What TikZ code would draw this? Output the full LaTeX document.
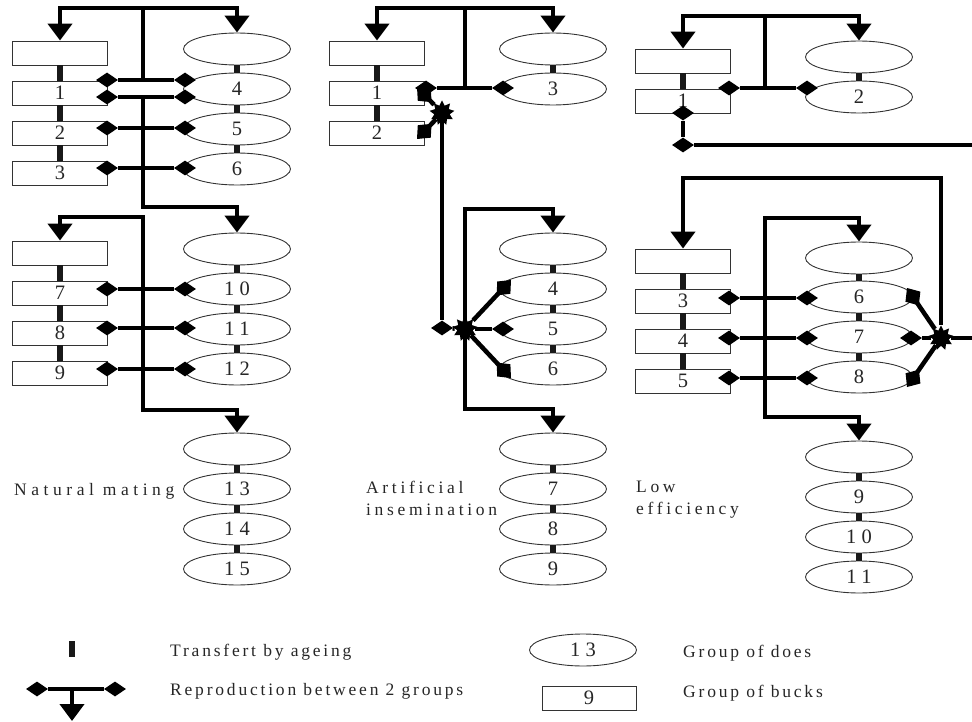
\documentclass[tikz,border=0pt]{standalone}
\usepackage{fontspec}
\setmainfont{Liberation Serif}
\usetikzlibrary{shapes.geometric,arrows.meta}

% fonts: group numbers, block captions and key captions (all letter-spaced)
\newcommand\grpnum{\fontsize{20.5}{20.5}\selectfont\addfontfeatures{LetterSpace=26}}
\newcommand\mainlbl{\fontsize{17.5}{22}\selectfont\addfontfeatures{LetterSpace=21}}
\newcommand\keylbl{\fontsize{17.5}{22}\selectfont\addfontfeatures{LetterSpace=16}}

\tikzset{
  buck/.style={draw=black!80, line width=0.9pt, minimum width=95pt, minimum height=24pt,
               inner sep=0pt, text=black!85, font=\grpnum},
  doe/.style={ellipse, draw=black!80, line width=0.9pt, minimum width=107pt, minimum height=32pt,
              inner sep=0pt, text=black!85, font=\grpnum},
  ageing/.style={line width=5.5pt, black!90},
  link/.style={line width=4.5pt},
  tri/.tip={Triangle[length=17pt,width=24pt]},
  dtip/.tip={Diamond[length=21pt,width=18pt]},
  feed/.style={line width=4.5pt, -tri},
  feedboth/.style={line width=4.5pt, tri-tri},
  slant/.style={line width=4.5pt, -dtip},
  dia/.style={diamond, fill=black, minimum width=22pt, minimum height=15pt, inner sep=0pt},
  hub/.style={star, star points=9, star point ratio=1.6, fill=black, minimum size=25pt, inner sep=0pt},
  caption/.style={inner sep=0pt, text=black!85, font=\mainlbl, align=left},
  keytext/.style={inner sep=0pt, text=black!85, font=\keylbl, anchor=west},
}

\begin{document}
\begin{tikzpicture}[x=1pt, y=-1pt]
\useasboundingbox (0,0) rectangle (972,722);

% ================= Natural mating =================
\node[buck] (A-r0) at (60,53) {};
\node[buck] (A-r1) at (60,93) {1};
\node[buck] (A-r2) at (60,133) {2};
\node[buck] (A-r3) at (60,173) {3};
\node[doe] (A-e0) at (237,49) {};
\node[doe] (A-e4) at (237,89) {4};
\node[doe] (A-e5) at (237,129) {5};
\node[doe] (A-e6) at (237,169) {6};

\node[buck] (A-r4) at (60,253) {};
\node[buck] (A-r7) at (60,293) {7};
\node[buck] (A-r8) at (60,333) {8};
\node[buck] (A-r9) at (60,373) {9};
\node[doe] (A-e1) at (237,249) {};
\node[doe] (A-e10) at (237,289) {10};
\node[doe] (A-e11) at (237,329) {11};
\node[doe] (A-e12) at (237,369) {12};

\node[doe] (A-e2) at (237,449) {};
\node[doe] (A-e13) at (237,489) {13};
\node[doe] (A-e14) at (237,529) {14};
\node[doe] (A-e15) at (237,569) {15};

\foreach \a/\b in {r0/r1,r1/r2,r2/r3,r4/r7,r7/r8,r8/r9,
                   e0/e4,e4/e5,e5/e6,e1/e10,e10/e11,e11/e12,e2/e13,e13/e14,e14/e15}
  \draw[ageing] (A-\a.south) -- (A-\b.north);

\foreach \n/\y in {1a/80,1b/97,2/128,3/168,7/289,8/328,9/369} {
  \node[dia] (A-dl\n) at (107,\y) {};
  \node[dia] (A-dr\n) at (185,\y) {};
  \draw[link] (A-dl\n) -- (A-dr\n);
}

\coordinate (A-top) at (143,8);
\coordinate (A-j0) at (143,80);
\draw[feedboth] (A-r0.north) |- (A-top) -| (A-e0.north);
\draw[link] (A-j0) -- (A-top);

\coordinate (A-j1) at (143,97);
\coordinate (A-k1) at (143,207);
\draw[feed] (A-j1) -- (A-k1) -| (A-e1.north);

\coordinate (A-k2) at (143,217);
\coordinate (A-k3) at (143,410);
\draw[feedboth] (A-r4.north) |- (A-k2) -- (A-k3) -| (A-e2.north);

\node[caption, anchor=west, font=\mainlbl\addfontfeatures{LetterSpace=26}] (A-cap) at (14,491) {Natural mating};

% ================= Artificial insemination =================
\node[buck] (B-r0) at (377,53) {};
\node[buck] (B-r1) at (377,93) {1};
\node[buck] (B-r2) at (377,133) {2};
\node[doe] (B-e0) at (553,49) {};
\node[doe] (B-e3) at (553,89) {3};

\node[doe] (B-e1) at (553,249) {};
\node[doe] (B-e4) at (553,289) {4};
\node[doe] (B-e5) at (553,329) {5};
\node[doe] (B-e6) at (553,369) {6};

\node[doe] (B-e2) at (553,449) {};
\node[doe] (B-e7) at (553,489) {7};
\node[doe] (B-e8) at (553,529) {8};
\node[doe] (B-e9) at (553,569) {9};

\foreach \a/\b in {r0/r1,r1/r2,e0/e3,e1/e4,e4/e5,e5/e6,e2/e7,e7/e8,e8/e9}
  \draw[ageing] (B-\a.south) -- (B-\b.north);

\coordinate (B-top) at (465,8);
\coordinate (B-j0) at (465,88);
\draw[feedboth] (B-r0.north) |- (B-top) -| (B-e0.north);
\draw[link] (B-j0) -- (B-top);

\node[dia] (B-d1a) at (426,88) {};
\node[dia] (B-d3) at (503,88) {};
\draw[link] (B-d1a) -- (B-d3);

% bucks 1 and 2 joined at a hub, then down to the second doe block
\node[hub] (B-h1) at (442,113) {};
\coordinate (B-c1) at (417,87);
\coordinate (B-c2) at (417,139);
\draw[slant] (B-h1) -- (B-c1);
\draw[slant] (B-h1) -- (B-c2);
\node[dia] (B-dv) at (442,328) {};
\draw[link] (B-h1) -- (B-dv);

\node[hub] (B-h2) at (465,329) {};
\draw[link] (B-dv) -- (B-h2);
\coordinate (B-c4) at (511,280);
\node[dia] (B-d5) at (503,329) {};
\coordinate (B-c6) at (511,378);
\draw[slant] (B-h2) -- (B-c4);
\draw[link] (B-h2) -- (B-d5);
\draw[slant] (B-h2) -- (B-c6);

\coordinate (B-k1) at (465,209);
\coordinate (B-k2) at (465,409);
\draw[feedboth] (B-e1.north) |- (B-k1) -- (B-k2) -| (B-e2.north);

\node[caption, anchor=north west] (B-cap) at (366,481) {Artificial\\insemination};

% ================= Low efficiency =================
\node[buck] (C-r0) at (683,61) {};
\node[buck] (C-r1) at (683,101) {1};
\node[doe] (C-e0) at (859,57) {};
\node[doe] (C-e2) at (859,97) {2};

\node[buck] (C-r2) at (683,261) {};
\node[buck] (C-r3) at (683,301) {3};
\node[buck] (C-r4) at (683,341) {4};
\node[buck] (C-r5) at (683,381) {5};
\node[doe] (C-e1) at (859,258) {};
\node[doe] (C-e6) at (859,297) {6};
\node[doe] (C-e7) at (859,337) {7};
\node[doe] (C-e8) at (859,377) {8};

\node[doe] (C-e3) at (859,457) {};
\node[doe] (C-e9) at (859,497) {9};
\node[doe] (C-e10) at (859,537) {10};
\node[doe] (C-e11) at (859,577) {11};

\foreach \a/\b in {r0/r1,e0/e2,r2/r3,r3/r4,r4/r5,e1/e6,e6/e7,e7/e8,e3/e9,e9/e10,e10/e11}
  \draw[ageing] (C-\a.south) -- (C-\b.north);

\coordinate (C-top) at (765,16);
\coordinate (C-j0) at (765,88);
\draw[feedboth] (C-r0.north) |- (C-top) -| (C-e0.north);
\draw[link] (C-j0) -- (C-top);
\node[dia] (C-d1) at (729,88) {};
\node[dia] (C-d2) at (807,88) {};
\draw[link] (C-d1) -- (C-d2);

\node[dia] (C-d1b) at (683,113) {};
\node[dia] (C-d1c) at (683,145) {};
\coordinate (C-out1) at (972,145);
\draw[link] (C-d1b) -- (C-d1c);
\draw[link] (C-d1c) -- (C-out1);

\foreach \n/\y in {3/298,4/338,5/378} {
  \node[dia] (C-dl\n) at (729,\y) {};
  \node[dia] (C-dr\n) at (807,\y) {};
  \draw[link] (C-dl\n) -- (C-dr\n);
}

\node[hub] (C-h) at (941,338) {};
\coordinate (C-k0) at (941,178);
\draw[feed] (C-h) -- (C-k0) -| (C-r2.north);
\coordinate (C-out2) at (972,338);
\draw[link] (C-h) -- (C-out2);
\coordinate (C-c6) at (907,288);
\node[dia] (C-d7r) at (911,338) {};
\coordinate (C-c8) at (907,387);
\draw[slant] (C-h) -- (C-c6);
\draw[link] (C-h) -- (C-d7r);
\draw[slant] (C-h) -- (C-c8);

\coordinate (C-k1) at (765,218);
\coordinate (C-k2) at (765,417);
\draw[feedboth] (C-e1.north) |- (C-k1) -- (C-k2) -| (C-e3.north);

\node[caption, anchor=north west] (C-cap) at (636,481) {Low\\efficiency};

% ================= Key =================
\coordinate (K-a1) at (72,641);
\coordinate (K-a2) at (72,657);
\draw[ageing] (K-a1) -- (K-a2);
\node[keytext] (K-t1) at (170,652) {Transfert by ageing};

\node[dia] (K-d1) at (37,689) {};
\node[dia] (K-d2) at (115,689) {};
\draw[link] (K-d1) -- (K-d2);
\coordinate (K-j) at (72,689);
\coordinate (K-end) at (72,721);
\draw[feed] (K-j) -- (K-end);
\node[keytext] (K-t2) at (170,691) {Reproduction between 2 groups};

\node[doe] (K-e) at (583,650) {13};
\node[buck, minimum width=94pt] (K-r) at (589,698) {9};
\node[keytext] (K-t3) at (683,653) {Group of does};
\node[keytext] (K-t4) at (683,693) {Group of bucks};

\end{tikzpicture}
\end{document}
